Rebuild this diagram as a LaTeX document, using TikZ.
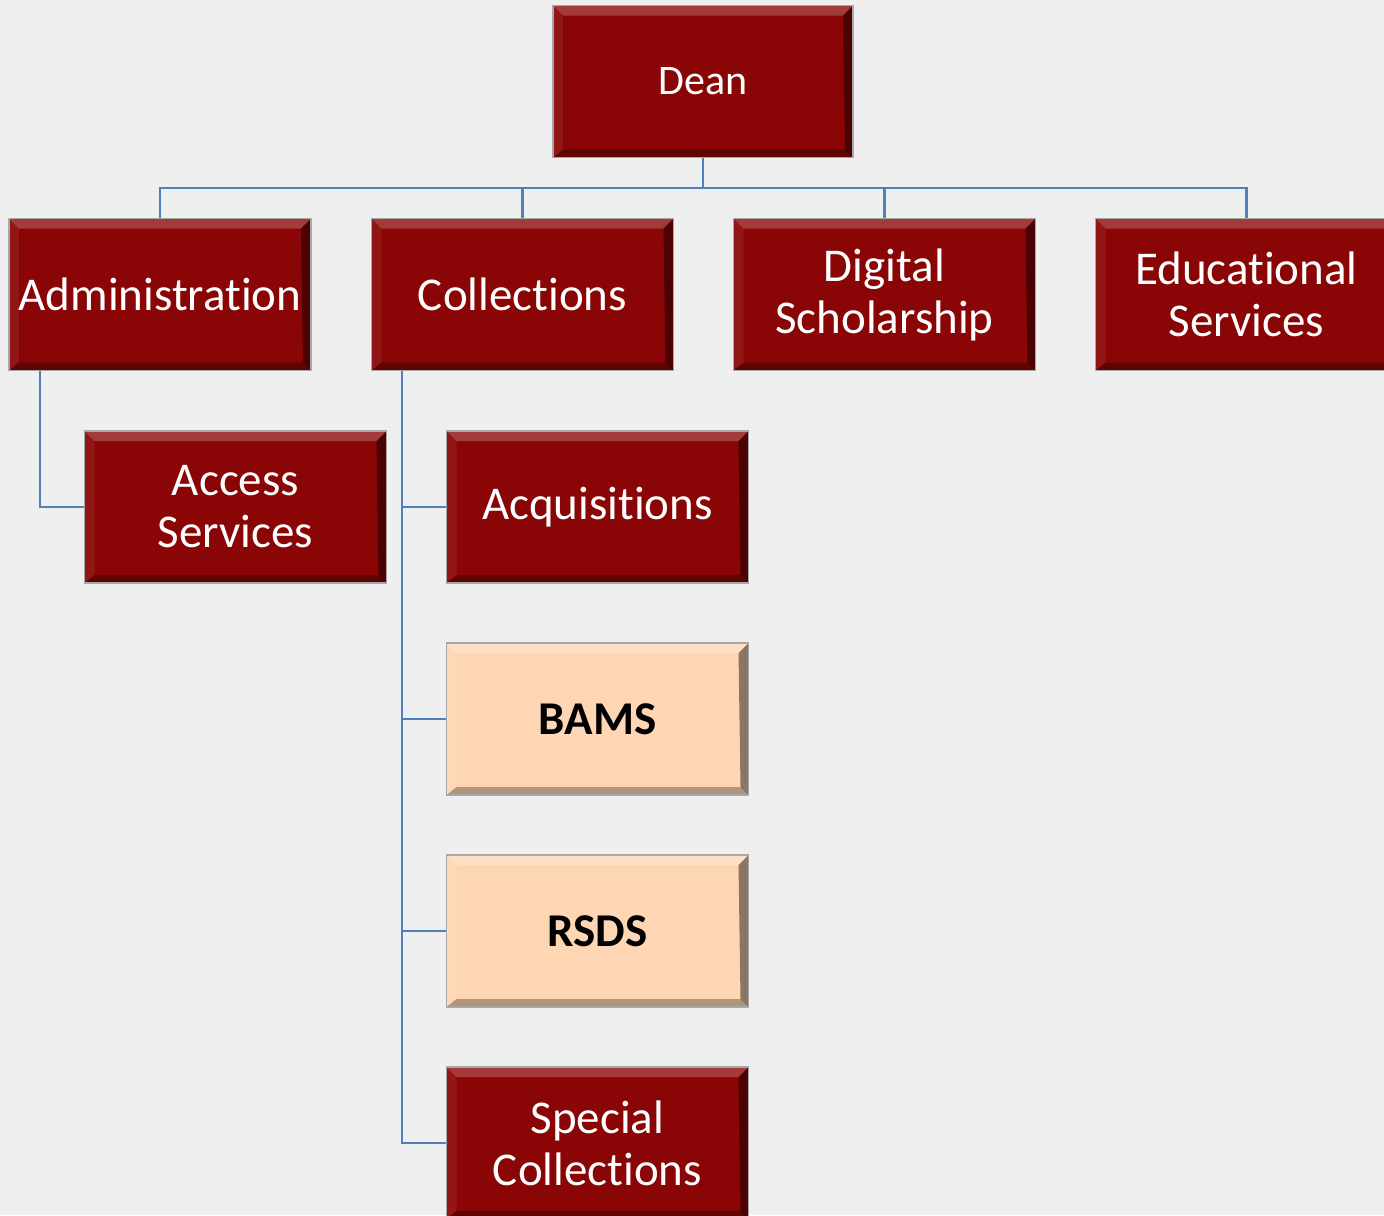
\documentclass[tikz,border=0pt]{standalone}
\usepackage{fontspec}
\setmainfont{Carlito}[Ligatures={NoCommon}]
\definecolor{pagebg}{HTML}{EFEFEF}
\definecolor{deanred}{HTML}{8A0505}
\definecolor{peach}{HTML}{FFD6B4}
\definecolor{boxline}{HTML}{A8A8A8}
\definecolor{wire}{HTML}{4F81BD}
\tikzset{
  bevel/.style={path picture={
      \path (path picture bounding box.north west) coordinate (pnw)
            (path picture bounding box.south east) coordinate (pse);
      \fill[white,opacity=.22] (pnw) -- (pnw -| pse) -- ([shift={(-5pt,-5pt)}]pnw -| pse)
            -- ([shift={(5pt,-5pt)}]pnw) -- cycle;
      \fill[white,opacity=.07] (pnw) -- ([shift={(5pt,-5pt)}]pnw) -- ([shift={(5pt,4pt)}]pnw |- pse)
            -- (pnw |- pse) -- cycle;
      \fill[black,opacity=.45] (pnw -| pse) -- (pse) -- ([shift={(-4pt,4pt)}]pse)
            -- ([shift={(-5pt,-5pt)}]pnw -| pse) -- cycle;
      \fill[black,opacity=.3] (pnw |- pse) -- (pse) -- ([shift={(-4pt,4pt)}]pse)
            -- ([shift={(5pt,4pt)}]pnw |- pse) -- cycle;
  }},
  unit/.style={draw=boxline, line width=0.8pt, fill=deanred, bevel,
      minimum width=151pt, minimum height=76pt, inner sep=0pt,
      align=center, text=white, font=\fontsize{23.5}{26}\selectfont},
  subunit/.style={unit, fill=peach, text=black, font=\fontsize{23.5}{26}\selectfont\bfseries},
  wire/.style={draw=wire, line width=1.4pt}
}
\begin{document}
\begin{tikzpicture}[x=0.5pt,y=-0.5pt]
  \useasboundingbox (0,0) rectangle (1384,1215);
  \fill[pagebg] (0,0) rectangle (1384,1215);
  % top
  \node[unit, minimum width=150pt, font=\fontsize{21}{24}\selectfont] (dean) at (703,81.5) {Dean};
  % second row
  \node[unit] (admin) at (160,294.5) {Administration};
  \node[unit] (coll) at (522.5,294.5) {Collections};
  \node[unit] (digi) at (884.5,294.5) {Digital\\Scholarship};
  \node[unit] (edu) at (1246.5,294.5) {Educational\\Services};
  % under administration
  \node[unit] (access) at (235.5,507) {Access\\Services};
  % under collections
  \node[unit] (acq) at (597.5,507) {Acquisitions};
  \node[subunit] (bams) at (597.5,719) {BAMS};
  \node[subunit] (rsds) at (597.5,931) {RSDS};
  \node[unit] (spec) at (597.5,1143) {Special\\Collections};
  % wires
  \coordinate (bus) at (703,188);
  \coordinate (adminstem) at (40,371);
  \coordinate (collstem) at (402,371);
  \draw[wire] (dean.south) -- (bus);
  \foreach \n in {admin,coll,digi,edu}
  {
    \draw[wire] (bus) -| (\n.north);
  }
  \draw[wire] (adminstem) |- (access.west);
  \foreach \n in {acq,bams,rsds,spec}
  {
    \draw[wire] (collstem) |- (\n.west);
  }
\end{tikzpicture}
\end{document}
